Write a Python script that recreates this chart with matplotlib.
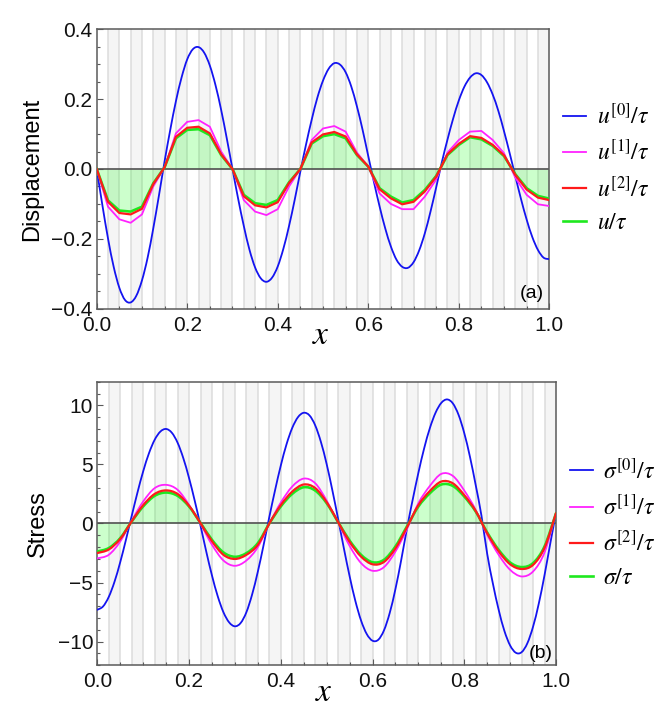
import numpy as np
import matplotlib
matplotlib.use("Agg")
import matplotlib.pyplot as plt
from matplotlib.ticker import MultipleLocator
from matplotlib.lines import Line2D
from matplotlib.path import Path
from matplotlib.patches import PathPatch

plt.rcParams['font.family'] = ['Liberation Sans', 'DejaVu Sans']
plt.rcParams['mathtext.fontset'] = 'stix'

# 40 layers of equal thickness, every second one shaded
n_layers = 40

# sample positions
x_fine = np.linspace(0, 1, 81)     # step 0.0125, for the smooth zeroth-order curves
x_coarse = np.linspace(0, 1, 41)   # step 0.025, one point per layer boundary

# ---- panel (a): displacement ----
u0 = [0.000, -0.103, -0.199, -0.280, -0.340, -0.375, -0.382, -0.363, -0.319, -0.254, -0.170, -0.076,
      0.022, 0.112, 0.194, 0.262, 0.314, 0.343,
      0.349, 0.333, 0.296, 0.240, 0.169, 0.087,
      0.000, -0.085, -0.163, -0.231, -0.282, -0.313,
      -0.323, -0.311, -0.279, -0.228, -0.163, -0.088, -0.007,
      0.070, 0.141, 0.204, 0.253, 0.287, 0.303,
      0.299, 0.277, 0.236, 0.179, 0.112, 0.037,
      -0.037, -0.107, -0.170, -0.222, -0.260, -0.280,
      -0.283, -0.267, -0.233, -0.184, -0.122, -0.053,
      0.019, 0.084, 0.144, 0.196, 0.236, 0.262, 0.274,
      0.269, 0.248, 0.213, 0.166, 0.108, 0.045,
      -0.021, -0.086, -0.145, -0.195, -0.232, -0.254, -0.258]
u1 = [0.000, -0.108, -0.144, -0.154, -0.130, -0.050, 0.005, 0.102, 0.135, 0.140, 0.121, 0.050,
      0.000, -0.089, -0.122, -0.132, -0.115, -0.050, 0.000, 0.083, 0.116, 0.123, 0.107, 0.047,
      0.007, -0.070, -0.100, -0.115, -0.115, -0.079, -0.030, 0.047, 0.083, 0.107, 0.109, 0.083,
      0.045, -0.025, -0.074, -0.101, -0.106]
u2 = [0.000, -0.094, -0.126, -0.130, -0.114, -0.043, 0.005, 0.092, 0.118, 0.121, 0.102, 0.042,
      0.000, -0.078, -0.104, -0.110, -0.095, -0.040, 0.000, 0.076, 0.099, 0.106, 0.093, 0.042,
      0.007, -0.058, -0.084, -0.101, -0.094, -0.064, -0.022, 0.042, 0.072, 0.094, 0.089, 0.069,
      0.039, -0.017, -0.059, -0.082, -0.089]
u_ex = [0.000, -0.090, -0.119, -0.122, -0.108, -0.041, 0.005, 0.088, 0.112, 0.114, 0.097, 0.040,
        0.000, -0.074, -0.098, -0.103, -0.089, -0.038, 0.000, 0.073, 0.094, 0.100, 0.088, 0.040,
        0.007, -0.055, -0.079, -0.096, -0.089, -0.060, -0.020, 0.040, 0.069, 0.091, 0.085, 0.066,
        0.037, -0.015, -0.055, -0.077, -0.085]

# ---- panel (b): stress ----
s0 = [-7.30, -7.02, -6.21, -4.93, -3.27, -1.37,
      0.64, 2.61, 4.41, 5.93, 7.08, 7.78,
      8.00, 7.68, 6.84, 5.53, 3.85, 1.91,
      -0.18, -2.37, -4.40, -6.15, -7.51, -8.37, -8.70,
      -8.42, -7.51, -6.01, -4.07, -1.83,
      0.55, 2.81, 4.90, 6.70, 8.09, 9.00, 9.37,
      9.15, 8.31, 6.90, 5.03, 2.80, 0.39,
      -2.09, -4.45, -6.54, -8.21, -9.36, -9.92,
      -9.84, -9.04, -7.57, -5.54, -3.10, -0.44,
      2.00, 4.29, 6.35, 8.07, 9.38, 10.21, 10.50,
      10.17, 9.20, 7.65, 5.63, 3.24, 0.66,
      -2.57, -5.10, -7.30, -9.09, -10.32, -10.94,
      -10.89, -10.14, -8.73, -6.77, -4.37, -1.69, 0.90]
s1 = [-2.95, -2.65, -1.52, 0.25, 1.86, 2.99, 3.27, 2.85, 1.58, -0.03, -1.80, -3.13, -3.58, -3.13,
      -2.00, 0.00, 1.77, 3.13, 3.80, 3.41, 1.94, 0.08, -1.89, -3.35, -4.00, -3.69, -2.37, -0.48,
      1.72, 3.18, 4.20, 4.03, 2.79, 1.15, -0.96, -2.65, -3.92, -4.48, -4.06, -2.45, 0.87]
s2 = [-2.50, -2.20, -1.30, 0.18, 1.55, 2.50, 2.80, 2.50, 1.50, 0.03, -1.50, -2.65, -3.00, -2.65,
      -1.80, 0.00, 1.55, 2.70, 3.30, 3.00, 1.80, 0.12, -1.55, -2.80, -3.45, -3.25, -2.10, -0.32,
      1.55, 2.75, 3.55, 3.40, 2.40, 1.05, -0.82, -2.35, -3.45, -3.85, -3.50, -2.05, 0.87]
s_ex = [-2.37, -2.08, -1.24, 0.17, 1.44, 2.34, 2.62, 2.34, 1.44, 0.05, -1.38, -2.45, -2.82, -2.51,
        -1.66, 0.00, 1.44, 2.51, 3.07, 2.79, 1.72, 0.12, -1.44, -2.65, -3.28, -3.07, -1.94, -0.25,
        1.44, 2.56, 3.30, 3.18, 2.28, 1.01, -0.76, -2.23, -3.30, -3.69, -3.35, -1.94, 0.87]

labels_a = [r'$u^{[0]}/\tau$', r'$u^{[1]}/\tau$', r'$u^{[2]}/\tau$', r'$u/\tau$']
labels_b = [r'$\sigma^{[0]}/\tau$', r'$\sigma^{[1]}/\tau$', r'$\sigma^{[2]}/\tau$', r'$\sigma/\tau$']

c_blue, c_mag, c_red, c_green = '#1414f0', '#ff22ff', '#ff1a1a', '#1ee81e'
frame_col = '#5a5a5a'


def smooth_path(x, y):
    # Catmull-Rom through the read points, drawn as cubic Bezier segments
    p = np.column_stack([x, y])
    ext = np.vstack([p[0], p, p[-1]])
    verts = [p[0]]
    codes = [Path.MOVETO]
    for i in range(len(p) - 1):
        a, b, c, d = ext[i], ext[i + 1], ext[i + 2], ext[i + 3]
        verts += [b + (c - a) / 6, c - (d - b) / 6, c]
        codes += [Path.CURVE4] * 3
    return np.array(verts), codes


def draw_curve(ax, x, y, smooth, **kw):
    if smooth:
        v, c = smooth_path(x, y)
        ax.add_patch(PathPatch(Path(v, c), fill=False, edgecolor=kw['color'],
                               lw=kw['lw'], zorder=kw['zorder'], capstyle='round'))
    else:
        ax.plot(x, y, **kw)


def draw_panel(ax, y0, y1, y2, yex, labels, ylim, ymajor, yminor, ylabel, fmt, tag, tagpos, smooth):
    # layer stripes
    w = 1.0 / n_layers
    for i in range(n_layers):
        if i % 2 == 1:
            ax.axvspan(i * w, (i + 1) * w, color='#f5f5f5', lw=0, zorder=0)
    for k in range(1, n_layers):
        ax.axvline(k * w, color='#dcdcdc', lw=1.1, zorder=0.5)

    # filling between the exact curve and zero
    if smooth:
        v, c = smooth_path(x_coarse, yex)
        v = np.vstack([v, [[1, 0], [0, 0], [0, 0]]])
        c = list(c) + [Path.LINETO, Path.LINETO, Path.CLOSEPOLY]
        ax.add_patch(PathPatch(Path(v, c), facecolor=(0, 1, 0), alpha=0.2, lw=0, zorder=1))
    else:
        ax.fill_between(x_coarse, yex, 0, color=(0, 1, 0), alpha=0.2, lw=0, zorder=1)
    ax.axhline(0, color='#505050', lw=1.2, zorder=2)

    draw_curve(ax, x_fine, y0, True, color=c_blue, lw=1.3, zorder=3)
    draw_curve(ax, x_coarse, y1, smooth, color=c_mag, lw=1.3, zorder=4)
    draw_curve(ax, x_coarse, yex, smooth, color=c_green, lw=1.9, zorder=5)
    draw_curve(ax, x_coarse, y2, smooth, color=c_red, lw=1.6, zorder=6)

    ax.set_xlim(0, 1)
    ax.set_ylim(*ylim)
    ax.xaxis.set_major_locator(MultipleLocator(0.2))
    ax.xaxis.set_minor_locator(MultipleLocator(0.05))
    ax.yaxis.set_major_locator(MultipleLocator(ymajor))
    ax.yaxis.set_minor_locator(MultipleLocator(yminor))
    ax.xaxis.set_major_formatter(lambda v, p: f"{v:.1f}")
    ax.yaxis.set_major_formatter(lambda v, p: fmt(v).replace('-', '\u2212'))
    ax.tick_params(which='both', direction='in', top=False, right=False,
                   color=frame_col, width=0.8, labelsize=15, labelcolor='#111111', pad=3)
    ax.tick_params(axis='x', which='both', pad=5)
    ax.tick_params(which='major', length=4.5)
    ax.tick_params(which='minor', length=2.5)
    for sp in ax.spines.values():
        sp.set_color(frame_col)
        sp.set_linewidth(1.1)

    ax.set_ylabel(ylabel, fontsize=17, labelpad=6)
    ax.text(0.495, -0.095, r'$x$', transform=ax.transAxes, fontsize=24,
            ha='center', va='center')
    ax.text(tagpos[0], tagpos[1], tag, transform=ax.transAxes, fontsize=14,
            ha='center', va='center')

    handles = [Line2D([], [], color=c, lw=lw) for c, lw in
               [(c_blue, 1.3), (c_mag, 1.3), (c_red, 1.6), (c_green, 1.9)]]
    ax.legend(handles, labels, loc='center left', bbox_to_anchor=(1.0, 0.5),
              frameon=False, fontsize=17, handlelength=0.95, handletextpad=0.45,
              borderpad=0, borderaxespad=0.6, labelspacing=0.45)


fig = plt.figure(figsize=(6.64, 7.2), dpi=100)
ax_a = fig.add_axes([96.7 / 664, 1 - 308.7 / 720, 452.6 / 664, 279.4 / 720])
ax_b = fig.add_axes([97.3 / 664, 1 - 665.3 / 720, 458.7 / 664, 283.6 / 720])

draw_panel(ax_a, u0, u1, u2, u_ex, labels_a, (-0.4, 0.4), 0.2, 0.05, 'Displacement',
           lambda v: f"{v:.1f}", '(a)', (0.961, 0.055), False)
draw_panel(ax_b, s0, s1, s2, s_ex, labels_b, (-12, 12), 5, 1, 'Stress',
           lambda v: f"{v:.0f}", '(b)', (0.967, 0.042), True)

fig.savefig('out.png', dpi=100)
